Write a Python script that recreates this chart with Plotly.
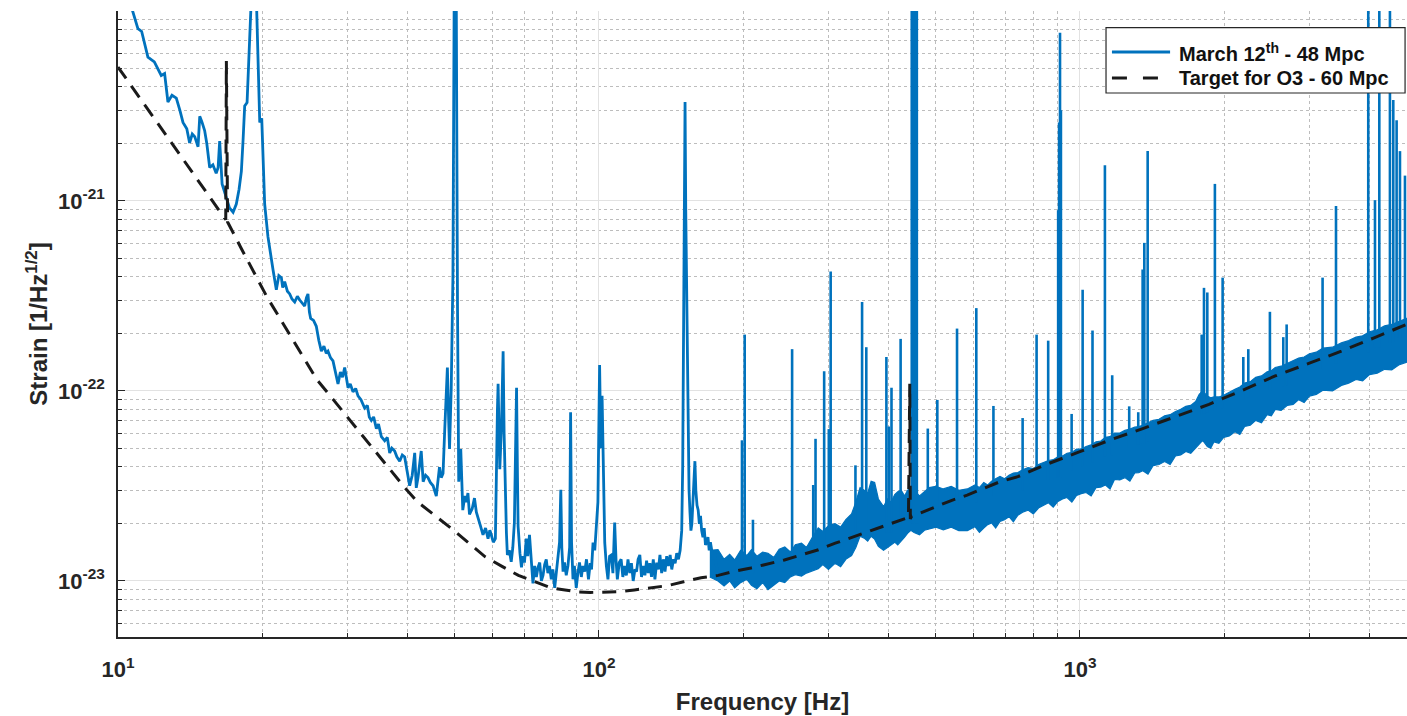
import plotly.graph_objects as go

U = 1e-23  # values below are in units of 1e-23 strain/sqrt(Hz)

# ---- measured spectrum, low-frequency part (line) ----
main_f = [10.0, 10.4, 10.74, 11.0, 11.2, 11.54, 11.9, 12.1, 12.3, 12.5, 12.7, 12.95, 13.22, 13.45, 13.65, 13.9,
          14.09, 14.27, 14.44, 14.67, 14.79, 14.95, 15.14, 15.3, 15.51, 15.75, 16.0, 16.15, 16.27, 16.46, 16.65,
          16.8, 17.05, 17.35, 17.62, 17.85, 18.05, 18.2, 18.34, 18.55, 18.78, 18.94, 19.39, 19.55, 19.71, 19.9,
          20.05, 20.18, 20.5, 20.75, 21.0, 21.34, 21.6, 21.86, 22.0, 22.21, 22.5, 22.75, 23.0, 23.3, 23.6, 23.87,
          24.15, 24.44, 24.65, 24.83, 25.0, 25.15, 25.5, 25.84, 26.15, 26.47, 26.8, 27.1, 27.33, 27.65, 27.99,
          28.3, 28.67, 29.0, 29.3, 29.6, 30.08, 30.4, 30.8, 31.2, 31.55, 32.0, 32.57, 33.0, 33.3, 33.63, 34.0,
          34.45, 34.8, 35.28, 35.85, 36.3, 36.72, 37.1, 37.6, 38.0, 38.52, 39.0, 39.45, 39.9, 40.4, 40.9, 41.39,
          41.7, 42.05, 42.7, 43.1, 43.6, 44.1, 44.6, 45.2, 45.9, 46.3, 46.6, 47.0, 47.4, 47.8, 48.1, 48.4, 48.7,
          48.9, 49.3, 49.7, 50.0, 50.5, 50.8, 51.1, 51.6, 52.1, 52.6, 53.0, 53.4, 53.8, 54.5, 55.1, 55.6, 56.0,
          56.7, 57.4, 58.1, 58.8, 59.3, 59.7, 60.3, 60.9, 61.2, 61.5, 61.7, 61.95, 62.2, 62.7, 63.2, 63.5, 63.8,
          64.2, 64.5, 65.1, 65.7, 66.2, 66.7, 67.1, 67.4, 67.7, 67.9, 68.5, 69.0, 69.5, 70.0, 70.6, 71.1, 71.7,
          72.3, 72.9, 73.5, 74.1, 74.7, 75.3, 75.9, 76.5, 77.1, 77.7, 78.3, 78.9, 79.6, 80.2, 80.9, 81.5, 82.2,
          82.8, 83.3, 83.7, 84.2, 84.8, 85.5, 86.2, 86.9, 87.3, 87.7, 88.3, 88.9, 89.7, 90.4, 91.1, 91.9, 92.6,
          93.4, 94.2, 95.1, 95.9, 96.5, 97.2, 98.0, 98.8, 99.5, 100.3, 100.9, 101.5, 102.1, 102.8, 103.6, 104.4,
          105.2, 106.1, 106.9, 107.8, 108.5, 109.2, 110.2, 111.2, 112.1, 113.0, 114.0, 114.9, 115.9, 116.8, 117.8,
          118.8, 119.7, 120.6, 121.6, 122.6, 123.6, 124.6, 125.6, 126.6, 127.6, 128.6, 129.7, 130.7, 131.8, 132.9,
          133.9, 135.0, 136.1, 137.2, 138.3, 139.4, 140.6, 141.7, 142.9, 144.0, 145.1, 146.3, 147.5, 148.6, 149.3,
          149.9, 150.5, 151.0, 151.5, 152.0, 152.5, 153.2, 153.9, 154.6, 155.3, 156.0, 156.8, 157.5, 158.3, 159.0,
          159.9, 160.8, 161.7, 162.6, 163.5, 164.5, 165.5, 166.5, 167.5, 168.5, 169.5, 170.5, 171.6, 172.8, 174.0,
          175.4, 176.8]
main_v = [1800, 1300, 986, 808, 780, 572, 540, 500, 458, 469, 332, 360, 348, 300, 259, 240,
          202, 225, 218, 193, 279, 260, 235, 200, 150, 155, 140, 150, 207, 123, 112,
          101, 92, 87.3, 96.4, 115, 143, 210, 316, 330, 631, 1200, 1200, 500, 259, 272,
          170, 96.4, 64.9, 52, 43.6, 34.1, 40.5, 39.5, 35, 37.6, 33.5, 32.4, 30.5, 29.4, 31.5, 30.1,
          29.0, 28.0, 31, 32.4, 26, 24.1, 23.5, 21.9, 18.5, 16.2, 17.2, 15.8, 16.2, 15.0, 14.4,
          12.5, 10.9, 12.6, 11.8, 13.3, 10.4, 10.9, 9.9, 10.3, 9.42, 9.0, 8.12, 8.4, 7.3, 7.0, 7.3,
          6.34, 6.7, 5.75, 5.47, 5.7, 4.72, 5.0, 4.83, 4.5, 4.27, 4.6, 4.49, 3.8, 3.17, 3.6, 4.72,
          3.09, 3.5, 4.83, 3.33, 3.6, 3.5, 3.3, 3.17, 2.8, 3.4, 3.97, 3.5, 3.68, 6.34, 8.5, 13.3, 7.0,
          4.95, 10.4, 40, 1200, 1200, 28.0, 3.33, 4.95, 2.36, 2.8, 2.6, 2.9, 2.24, 2.4, 2.73, 2.3, 2.14,
          1.95, 1.75, 1.9, 1.67, 1.85, 1.75, 1.6, 1.67, 5.47, 8.0, 10.9, 6.0, 3.87, 6.5, 16.2, 6.0, 3.33,
          1.8, 1.37, 1.45, 1.26, 1.5, 2.03, 4.5, 10.4, 3.5, 1.94, 1.4, 1.18, 1.35, 1.25, 1.67, 1.35, 1.75,
          1.2, 0.97, 1.2, 1.05, 1.18, 1.25, 1.0, 1.07, 1.22, 1.3, 1.1, 1.2, 1.02, 1.15, 0.92, 1.1, 1.44,
          1.6, 3.02, 1.5, 1.12, 1.25, 1.07, 1.2, 1.5, 7.73, 1.6, 1.02, 1.2, 0.92, 1.1, 1.25, 1.05, 1.2,
          1.12, 1.3, 1.02, 1.24, 1.15, 1.59, 1.45, 2.03, 2.6, 13.7, 5.0, 9.42, 3.0, 1.59, 1.2, 1.02,
          1.35, 1.37, 1.1, 2.03, 1.3, 1.02, 1.25, 1.3, 1.05, 1.2, 1.07, 1.3, 1.1, 1.24, 1.0,
          1.15, 1.12, 1.3, 1.37, 1.05, 1.2, 1.07, 1.28, 1.1, 1.24, 1.05, 1.3, 1.02, 1.25, 1.15,
          1.37, 1.1, 1.3, 1.12, 1.35, 1.2, 1.37, 1.15, 1.3, 1.24, 1.4, 1.3, 1.45, 1.84, 4.0,
          13.3, 120, 332, 90, 40, 26.7, 8.0, 3.02, 2.3, 1.84, 2.0, 2.5, 3.5, 4.27, 3.0,
          2.5, 2.36, 2.0, 2.2, 1.84, 1.7, 1.9, 1.55, 1.59, 1.7, 1.45, 1.6, 1.44, 1.3, 1.4,
          1.2, 1.12]

# ---- measured spectrum, dense noise floor above ~170 Hz (lower / upper envelope) ----
band_f = [170, 176.8, 182, 187, 191.5, 197, 203, 207.5, 213, 219, 224.6, 231, 237, 243.4, 250, 256, 263.7, 270,
          278, 285.7, 292, 300, 309.6, 318, 326, 335.1, 342, 349, 356, 362, 368, 374.2, 381, 390.5, 398, 405,
          412, 418, 425, 432, 438, 445, 452, 463.9, 475, 486, 502, 520, 540, 560, 583.4,
          605, 618, 631, 643, 655, 668, 682, 697, 712, 727, 743, 760, 780, 800, 820, 840, 860, 880, 900, 920,
          940, 962, 984, 1006, 1030, 1055, 1080, 1105, 1130, 1155, 1180, 1210, 1240, 1270, 1300, 1325, 1351,
          1385, 1420, 1460, 1500, 1540, 1580, 1620, 1660, 1700, 1740, 1770, 1800, 1840, 1870, 1900, 1945, 1990,
          2045, 2100, 2150, 2200, 2260, 2320, 2385, 2450, 2500, 2547, 2620, 2700, 2775, 2850, 2925, 3000, 3100,
          3200, 3350, 3496, 3620, 3750, 3870, 4000, 4150, 4300, 4450, 4600, 4750, 5000]
band_lo = [1.05, 1.0, 0.94, 1.0, 0.92, 0.98, 1.02, 0.95, 0.91, 0.98, 0.9, 0.95, 1.0, 0.98, 1.05, 1.08, 1.06, 1.1,
           1.13, 1.16, 1.22, 1.15, 1.24, 1.19, 1.3, 1.36, 1.5, 1.72, 1.68, 1.62, 1.72, 1.66, 1.52, 1.45, 1.5, 1.55,
           1.6, 1.55, 1.62, 1.7, 1.78, 1.85, 1.8, 1.75, 1.85, 1.88, 1.92, 1.86, 1.92, 1.84, 1.84,
           1.93, 1.8, 1.9, 1.98, 2.02, 1.9, 2.06, 2.1, 2.18, 2.05, 2.22, 2.3, 2.36, 2.25, 2.42, 2.5, 2.58, 2.45,
           2.62, 2.7, 2.75, 2.6, 2.82, 2.88, 2.92, 2.8, 3.1, 3.12, 3.2, 3.05, 3.42, 3.4, 3.5, 3.35, 3.7, 3.72,
           3.8, 3.65, 4.05, 4.1, 4.25, 4.1, 4.55, 4.6, 4.8, 4.7, 5.0, 5.3, 5.5, 5.1, 5.0, 5.4, 5.3, 5.7,
           5.8, 6.1, 5.9, 6.5, 6.6, 7.0, 6.8, 7.5, 7.4, 8.0, 7.9, 8.4, 8.5, 9.0, 8.7, 9.4, 9.6,
           10.1, 10.0, 10.7, 11.0, 11.5, 11.3, 12.2, 12.4, 13.0, 12.9, 13.7, 14.1, 14.6]
band_hi = [1.45, 1.46, 1.3, 1.38, 1.29, 1.45, 1.36, 1.46, 1.35, 1.42, 1.4, 1.33, 1.47, 1.51, 1.42, 1.55, 1.58, 1.5,
           1.7, 1.9, 1.82, 1.95, 2.0, 1.92, 2.1, 2.25, 2.6, 3.1, 3.0, 2.9, 3.35, 3.3, 2.7, 2.46, 2.7, 2.6,
           2.85, 2.95, 3.0, 2.8, 3.0, 3.1, 3.0, 2.8, 2.95, 3.1, 3.15, 3.05, 3.15, 3.0, 3.05,
           3.2, 3.1, 3.3, 3.2, 3.35, 3.45, 3.55, 3.45, 3.6, 3.7, 3.72, 3.85, 3.95, 3.9, 4.1, 4.2, 4.3, 4.35,
           4.5, 4.55, 4.7, 4.75, 4.95, 4.95, 5.1, 5.2, 5.4, 5.45, 5.7, 5.75, 6.0, 6.0, 6.2, 6.3, 6.45, 6.5,
           6.6, 6.8, 7.0, 7.1, 7.4, 7.5, 7.8, 8.0, 8.3, 8.4, 8.8, 9.6, 10.0, 9.4, 9.2, 9.3, 9.3, 9.5,
           9.8, 10.2, 10.5, 11.0, 11.2, 11.8, 12.0, 12.6, 12.8, 13.3, 13.5, 14.0, 14.4, 14.9, 15.1, 15.7, 16.0,
           16.8, 17.0, 17.9, 18.4, 19.2, 19.5, 20.5, 21.0, 22.0, 22.4, 23.3, 24.0, 25.0]

# ---- narrow spectral lines above ~170 Hz ----
spike_f = [198.3, 200.9, 209.0, 252.1, 278.9, 282.0, 293.9, 300.5, 303.2, 341.4, 352.4, 359.6, 395.9, 400.5, 405.7,
           423.8, 447, 449.5, 452, 455, 458, 482.7, 505.2, 555.2, 608.9, 660.9, 760, 812.6, 859, 901, 905, 909,
           913, 961, 1013, 1062, 1127, 1167, 1266, 1322, 1350, 1361, 1383, 1791, 1811, 1840, 1908, 1980, 2186,
           2239, 2483, 2647, 2690, 3195, 3407, 3976, 4106, 4192, 4411, 4482, 4554, 4628, 4740]
spike_top = [5.5, 19.8, 2.1, 16.6, 3.2, 5.6, 12.7, 6.3, 42.6, 4.06, 29.4, 17.0, 15.1, 6.5, 10.4,
             18.8, 1500, 1500, 1500, 1500, 1500, 6.34, 8.97, 21.3, 27.3, 8.34, 7.2, 19.8, 18.4, 89.5, 259, 769,
             300, 7.57, 34.1, 20.8, 154, 12.1, 8.3, 7.73, 43.6, 60.2, 183, 19.8, 34.9, 33, 123, 39.5, 15.1,
             16.6, 26.1, 19.2, 22.4, 39.5, 94.1, 1500, 101, 1500, 1500, 340, 266, 183, 136]
spike_base = [1.2, 1.2, 1.1, 1.3, 1.4, 1.4, 1.5, 1.5, 1.6, 1.8, 1.9, 1.9, 1.8, 1.8, 1.8,
              2.0, 2.0, 2.0, 2.0, 2.0, 2.0, 2.2, 2.4, 2.5, 2.6, 2.8, 3.0, 3.2, 3.4, 3.5, 3.5, 3.5,
              3.5, 3.8, 4.0, 4.2, 4.5, 4.6, 5.0, 5.2, 5.3, 5.3, 5.4, 7.5, 7.6, 7.7, 7.9, 8.1, 9.0,
              9.2, 10.0, 10.5, 10.7, 13.0, 14.0, 16.0, 17.0, 17.0, 18.0, 18.0, 19.0, 19.0, 20.0]

# ---- O3 target sensitivity curve ----
target_f = [10, 11, 12, 13, 14, 15, 16, 16.75, 16.8, 16.9, 18, 19, 20.4, 22, 24, 25.9, 28, 31, 35, 39.5, 42, 46,
            50, 54, 58, 63, 68, 74, 79.5, 85, 90.5, 96, 103, 110, 118.5, 128, 139, 150, 163, 177, 190, 207, 225,
            243, 263, 286, 310, 335, 360, 392, 425, 440, 442.8, 444, 446, 470, 499, 540, 583, 630, 682, 743, 850,
            984, 1150, 1351, 1600, 1855, 2200, 2547, 3000, 3496, 4100, 4750, 5000]
target_v = [507, 360, 264, 198, 152, 118, 94, 79.7, 546, 77.5, 56.9, 43.9, 31.3, 22.8, 15.8, 11.5, 9.03, 6.58, 4.51,
            3.09, 2.6, 2.18, 1.84, 1.56, 1.34, 1.19, 1.07, 0.987, 0.92, 0.897, 0.875, 0.87, 0.87, 0.877, 0.897,
            0.918, 0.945, 0.99, 1.04, 1.07, 1.12, 1.17, 1.23, 1.29, 1.37, 1.46, 1.58, 1.69, 1.8, 1.95, 2.09, 2.16,
            10.9, 2.12, 2.18, 2.3, 2.46, 2.65, 2.83, 3.06, 3.33, 3.54, 4.1, 4.72, 5.5, 6.34, 7.4, 8.5, 10.2,
            12.0, 14.0, 16.2, 19.1, 22.4, 23.5]

series_names = ['March 12<sup>th</sup> - 48 Mpc', 'Target for O3 - 60 Mpc']

x_major = [10, 100, 1000]
x_major_text = ['10<sup>1</sup>', '10<sup>2</sup>', '10<sup>3</sup>']
x_minor = [20, 30, 40, 50, 60, 70, 80, 90, 200, 300, 400, 500, 600, 700, 800, 900, 2000, 3000, 4000]
y_major = [1e-23, 1e-22, 1e-21]
y_major_text = ['10<sup>-23</sup>', '10<sup>-22</sup>', '10<sup>-21</sup>']
y_minor = [6e-24, 7e-24, 8e-24, 9e-24, 2e-23, 3e-23, 4e-23, 5e-23, 6e-23, 7e-23, 8e-23, 9e-23,
           2e-22, 3e-22, 4e-22, 5e-22, 6e-22, 7e-22, 8e-22, 9e-22,
           2e-21, 3e-21, 4e-21, 5e-21, 6e-21, 7e-21, 8e-21, 9e-21]

BLUE = '#0072BD'
BLACK = '#1a1a1a'
INK = '#262626'
FONT = 'Liberation Sans, Arial, Helvetica, sans-serif'
TARGET_DASH = '14px,9px'

fig = go.Figure()

fig.add_trace(go.Scatter(x=band_f, y=[v * U for v in band_lo], mode='lines',
                         line=dict(color=BLUE, width=1.2), showlegend=False, hoverinfo='skip'))
fig.add_trace(go.Scatter(x=band_f, y=[v * U for v in band_hi], mode='lines', fill='tonexty',
                         fillcolor=BLUE, line=dict(color=BLUE, width=1.2), showlegend=False, hoverinfo='skip'))

sx, sy = [], []
for f, b, t in zip(spike_f, spike_base, spike_top):
    sx += [f, f, None]
    sy += [b * U, t * U, None]
fig.add_trace(go.Scatter(x=sx, y=sy, mode='lines', line=dict(color=BLUE, width=2.6),
                         showlegend=False, hoverinfo='skip'))

fig.add_trace(go.Scatter(x=main_f, y=[v * U for v in main_v], mode='lines',
                         line=dict(color=BLUE, width=2.8), name=series_names[0], showlegend=False))
fig.add_trace(go.Scatter(x=target_f, y=[v * U for v in target_v], mode='lines',
                         line=dict(color=BLACK, width=3, dash=TARGET_DASH), name=series_names[1],
                         showlegend=False))

# ---- legend box (drawn in paper coordinates of the plot area) ----
LX0, LX1, LY0, LY1 = 0.7665, 0.9985, 0.869, 0.9736
shapes = [
    dict(type='rect', xref='paper', yref='paper', x0=LX0, x1=LX1, y0=LY0, y1=LY1,
         line=dict(color=INK, width=1.2), fillcolor='white', layer='above'),
    dict(type='line', xref='paper', yref='paper', x0=0.7711, x1=0.8162, y0=0.9345, y1=0.9345,
         line=dict(color=BLUE, width=2.8), layer='above'),
    dict(type='line', xref='paper', yref='paper', x0=0.7711, x1=0.8085, y0=0.893, y1=0.893,
         line=dict(color=BLACK, width=3, dash='15px,16px'), layer='above'),
]
annotations = [
    dict(xref='paper', yref='paper', x=0.8216, y=0.9345, xanchor='left', yanchor='middle', showarrow=False,
         text=series_names[0], font=dict(family=FONT, size=20, color='#111', weight='bold')),
    dict(xref='paper', yref='paper', x=0.8216, y=0.893, xanchor='left', yanchor='middle', showarrow=False,
         text=series_names[1], font=dict(family=FONT, size=20, color='#111', weight='bold')),
]

fig.update_layout(
    width=1407, height=716,
    margin=dict(l=118, r=0, t=11, b=79, autoexpand=False),
    plot_bgcolor='white', paper_bgcolor='white',
    font=dict(family=FONT, color=INK, weight='bold'),
    showlegend=False,
    shapes=shapes, annotations=annotations,
    xaxis=dict(type='log', range=[1, 3.68], showline=True, linecolor=INK, linewidth=1.5, automargin=False,
               ticks='inside', ticklen=7, tickwidth=1.2, tickcolor=INK,
               tickvals=x_major, ticktext=x_major_text, ticklabelstandoff=12,
               tickfont=dict(family=FONT, size=22, color=INK, weight='bold'),
               showgrid=True, gridcolor='#e2e2e2', gridwidth=1, zeroline=False,
               minor=dict(tickvals=x_minor, ticks='inside', ticklen=4, tickcolor=INK, tickwidth=1,
                          showgrid=True, gridcolor='#bdbdbd', griddash='dot', gridwidth=1),
               title=dict(text='Frequency [Hz]', standoff=12,
                          font=dict(family=FONT, size=24, color=INK, weight='bold'))),
    yaxis=dict(type='log', range=[-23.295, -20], showline=True, linecolor=INK, linewidth=1.5, automargin=False,
               ticks='inside', ticklen=7, tickwidth=1.2, tickcolor=INK,
               tickvals=y_major, ticktext=y_major_text, ticklabelstandoff=7,
               tickfont=dict(family=FONT, size=22, color=INK, weight='bold'),
               showgrid=True, gridcolor='#e2e2e2', gridwidth=1, zeroline=False,
               minor=dict(tickvals=y_minor, ticks='inside', ticklen=4, tickcolor=INK, tickwidth=1,
                          showgrid=True, gridcolor='#bdbdbd', griddash='dot', gridwidth=1),
               title=dict(text='Strain [1/Hz<sup>1/2</sup>]', standoff=4,
                          font=dict(family=FONT, size=24, color=INK, weight='bold'))),
    xaxis2=dict(type='log', range=[1, 3.68], overlaying='x', side='top', anchor='y', automargin=False,
                showline=True, linecolor='#d4d4d4', linewidth=1.5, ticks='inside', ticklen=6,
                tickcolor='#555', tickvals=x_major, showticklabels=False, showgrid=False, zeroline=False,
                minor=dict(tickvals=x_minor, ticks='inside', ticklen=4, tickcolor='#777', showgrid=False)),
)

# remove the default 8 px page margin so the 1407x716 figure fills the window exactly
fig.write_html('out.html', config={'displayModeBar': False},
               post_script="document.body.style.margin='0';document.body.style.overflow='hidden';")
